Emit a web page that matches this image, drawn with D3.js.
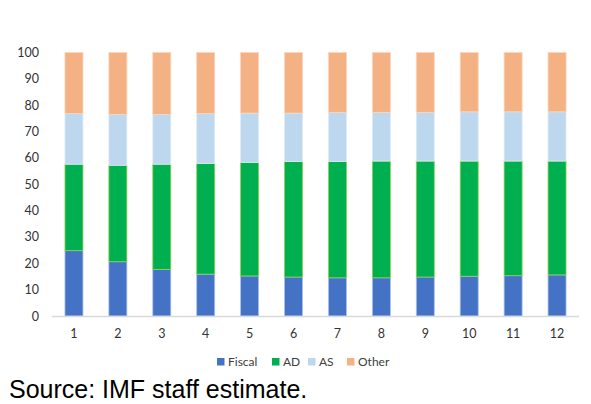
<!DOCTYPE html>
<html><head><meta charset="utf-8">
<script src="https://cdn.jsdelivr.net/npm/d3@7"></script>
<style>body{margin:0;background:#fff}svg{display:block}</style>
</head><body><svg id="c" width="591" height="404"></svg>
<script>
const categories = ["1","2","3","4","5","6","7","8","9","10","11","12"];
const fiscal = [24.8,20.6,17.7,15.9,15.2,14.8,14.5,14.5,14.8,15.1,15.3,15.6];
const ad     = [32.8,36.6,39.9,42.0,43.1,43.8,44.1,44.3,44.0,43.7,43.5,43.2];
const as     = [19.3,19.3,18.9,19.0,18.7,18.4,18.7,18.5,18.5,18.7,18.7,18.7];
const other  = [23.1,23.5,23.5,23.1,23.0,23.0,22.7,22.7,22.7,22.5,22.5,22.5];
const seriesNames = ["Fiscal","AD","AS","Other"];
const colors = ["#4472C4","#00B050","#BDD7EE","#F4B183"];
const strokes = ["#a9c1ea","#92d050","#deebf7","#fbd5b8"];
const yTicks = [0,10,20,30,40,50,60,70,80,90,100];

const svg = d3.select("#c");
const rows = categories.map((c,i)=>({cat:c,Fiscal:fiscal[i],AD:ad[i],AS:as[i],Other:other[i]}));
const stack = d3.stack().keys(seriesNames)(rows);

const x = d3.scaleBand().domain(categories).range([52,579]).paddingInner(0.59).paddingOuter(0.295);
const y = d3.scaleLinear().domain([0,100]).range([316,52.5]);
const font = "Lato, 'Open Sans', sans-serif";

svg.append("g").selectAll("g").data(stack).join("g")
  .attr("fill",(d,i)=>colors[i]).attr("stroke",(d,i)=>strokes[i]).attr("stroke-width",0.8)
  .selectAll("rect").data(d=>d).join("rect")
  .attr("x",d=>x(d.data.cat)).attr("width",x.bandwidth())
  .attr("y",d=>y(d[1])).attr("height",d=>y(d[0])-y(d[1]));

// x axis
const xa = svg.append("g").attr("transform","translate(0,316.5)")
  .call(d3.axisBottom(x).tickSize(0).tickPadding(13));
xa.select(".domain").attr("stroke","#d9d9d9").attr("stroke-width",1.3).attr("d","M52,0H579");
xa.selectAll("text").attr("font-family",font).attr("font-size",12.5).attr("fill","#333");

// y axis
const ya = svg.append("g").attr("transform","translate(52,0)")
  .call(d3.axisLeft(y).tickValues(yTicks).tickSize(0).tickPadding(13));
ya.select(".domain").remove();
ya.selectAll("text").attr("font-family",font).attr("font-size",12.5).attr("fill","#333");

// legend
const lg = svg.append("g");
const lx = [217,272,308,347];
seriesNames.forEach((n,i)=>{
  lg.append("rect").attr("x",lx[i]).attr("y",358).attr("width",7.5).attr("height",7.5).attr("fill",colors[i]);
  lg.append("text").attr("x",lx[i]+11).attr("y",365.5).attr("font-family",font).attr("font-size",12)
    .attr("fill","#404040").text(n);
});

svg.append("text").attr("x",9).attr("y",398).attr("font-family","'Liberation Sans', Arial, sans-serif")
  .attr("font-size",25).attr("fill","#000").text("Source: IMF staff estimate.");
</script></body></html>
